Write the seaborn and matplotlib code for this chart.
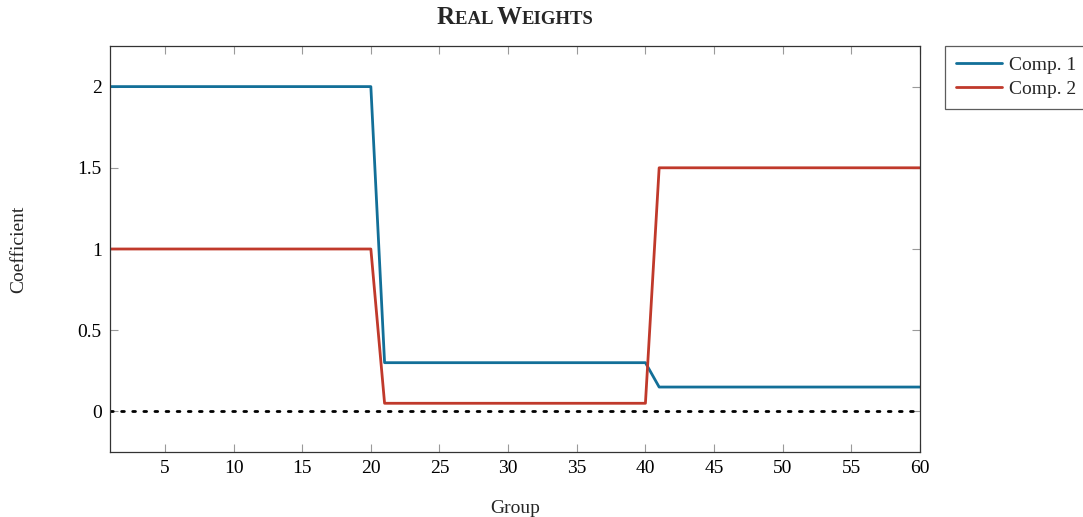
import numpy as np
import pandas as pd
import matplotlib
matplotlib.use("Agg")
import matplotlib.pyplot as plt
import seaborn as sns

# Coefficient of each component for groups 1..60
groups = list(range(1, 61))
comp1 = [2.0, 2.0, 2.0, 2.0, 2.0, 2.0, 2.0, 2.0, 2.0, 2.0,
         2.0, 2.0, 2.0, 2.0, 2.0, 2.0, 2.0, 2.0, 2.0, 2.0,
         0.3, 0.3, 0.3, 0.3, 0.3, 0.3, 0.3, 0.3, 0.3, 0.3,
         0.3, 0.3, 0.3, 0.3, 0.3, 0.3, 0.3, 0.3, 0.3, 0.3,
         0.15, 0.15, 0.15, 0.15, 0.15, 0.15, 0.15, 0.15, 0.15, 0.15,
         0.15, 0.15, 0.15, 0.15, 0.15, 0.15, 0.15, 0.15, 0.15, 0.15]
comp2 = [1.0, 1.0, 1.0, 1.0, 1.0, 1.0, 1.0, 1.0, 1.0, 1.0,
         1.0, 1.0, 1.0, 1.0, 1.0, 1.0, 1.0, 1.0, 1.0, 1.0,
         0.05, 0.05, 0.05, 0.05, 0.05, 0.05, 0.05, 0.05, 0.05, 0.05,
         0.05, 0.05, 0.05, 0.05, 0.05, 0.05, 0.05, 0.05, 0.05, 0.05,
         1.5, 1.5, 1.5, 1.5, 1.5, 1.5, 1.5, 1.5, 1.5, 1.5,
         1.5, 1.5, 1.5, 1.5, 1.5, 1.5, 1.5, 1.5, 1.5, 1.5]
series_names = ["Comp. 1", "Comp. 2"]
x_ticks = [5, 10, 15, 20, 25, 30, 35, 40, 45, 50, 55, 60]
y_ticks = [0, 0.5, 1, 1.5, 2]
y_ticklabels = ["0", "0.5", "1", "1.5", "2"]

df = pd.DataFrame({
    "Group": groups * 2,
    "Coefficient": comp1 + comp2,
    "Series": [series_names[0]] * len(groups) + [series_names[1]] * len(groups),
})

sns.set_theme(style="ticks")
plt.rcParams["font.family"] = ["Liberation Serif", "DejaVu Serif"]

fig = plt.figure(figsize=(10.83, 5.17), dpi=100)
ax = fig.add_axes([110 / 1083, 1 - 452 / 517, 810 / 1083, 406 / 517])

palette = {"Comp. 1": "#126f98", "Comp. 2": "#c0392b"}
sns.lineplot(data=df, x="Group", y="Coefficient", hue="Series",
             palette=palette, linewidth=2.0, ax=ax, legend=True)

ax.axhline(0, color="black", linestyle=(0, (1, 3)), linewidth=2.0,
           dash_capstyle="round", zorder=1)

ax.set_xlim(1, 60)
ax.set_ylim(-0.25, 2.25)
ax.set_xticks(x_ticks)
ax.set_xticklabels([str(t) for t in x_ticks])
ax.set_yticks(y_ticks)
ax.set_yticklabels(y_ticklabels)
ax.tick_params(axis="both", direction="in", length=6, width=0.8,
               color="#9a9a9a", labelsize=14, labelcolor="black",
               top=True, right=True, pad=6)
for s in ax.spines.values():
    s.set_visible(True)
    s.set_color("#333333")
    s.set_linewidth(0.9)

ax.set_xlabel("Group", fontsize=14)
ax.set_ylabel("Coefficient", fontsize=14)
ax.yaxis.set_label_coords(-0.102, 0.5)
ax.xaxis.set_label_coords(0.5, -0.118)

leg = ax.legend(loc="upper left", bbox_to_anchor=(1.031, 1.0), frameon=True,
                fancybox=False, fontsize=14, handlelength=2.4,
                borderpad=0.55, labelspacing=0.32, handletextpad=0.35,
                borderaxespad=0)
leg.get_frame().set_edgecolor("#333333")
leg.get_frame().set_linewidth(0.9)
for h in leg.get_lines():
    h.set_linewidth(2.0)

# Small-caps title built from pieces of two sizes
pieces = [("R", 18), ("EAL ", 13.5), ("W", 18), ("EIGHTS", 13.5)]
renderer = fig.canvas.get_renderer()
widths = []
for txt, size in pieces:
    t = fig.text(0, 0, txt, fontsize=size, fontweight="bold")
    bb = t.get_window_extent(renderer=renderer)
    widths.append(bb.width)
    t.remove()
total = sum(widths)
x_center_px = 0.5 * (110 + 920)
x0 = x_center_px - total / 2
ybase = 1 - 24 / 517
cur = x0
for (txt, size), w in zip(pieces, widths):
    fig.text(cur / 1083, ybase, txt, fontsize=size, fontweight="bold",
             va="baseline", ha="left")
    cur += w

fig.savefig("out.png", dpi=100)
